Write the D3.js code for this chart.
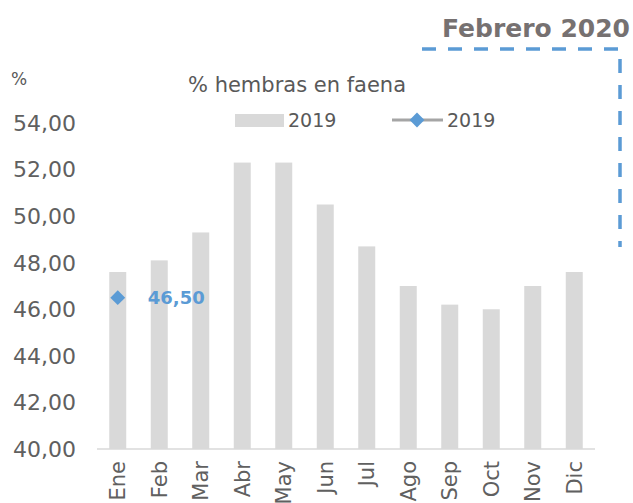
<!doctype html>
<meta charset="utf-8">
<script src="https://d3js.org/d3.v7.min.js"></script>
<style>
body { margin: 0; background: #fff; }
text { font-family: "DejaVu Sans", sans-serif; fill: #595959; }
</style>
<body>
<script>
// data
var months = ["Ene","Feb","Mar","Abr","May","Jun","Jul","Ago","Sep","Oct","Nov","Dic"];
var values2019 = [47.6, 48.1, 49.3, 52.3, 52.3, 50.5, 48.7, 47.0, 46.2, 46.0, 47.0, 47.6];
var months2020 = ["Ene"];
var values2020 = [46.5];
var yTicks = [40, 42, 44, 46, 48, 50, 52, 54];

var W = 633, H = 503;
var svg = d3.select("body").append("svg")
    .attr("width", W)
    .attr("height", H);

// scales
var x = d3.scaleBand().domain(months).range([97, 595]);
var y = d3.scaleLinear().domain([40, 54]).range([449, 123]);
var fmt = function(d) { return d3.format(".2f")(d).replace(".", ","); };

// bars
var bw = 17;
svg.selectAll(".bar")
    .data(values2019)
  .enter().append("rect")
    .attr("class", "bar")
    .attr("x", function(d, i) { return x(months[i]) + x.bandwidth() / 2 - bw / 2; })
    .attr("width", bw)
    .attr("y", function(d) { return y(d); })
    .attr("height", function(d) { return y(40) - y(d); })
    .attr("fill", "#d9d9d9");

// x axis line
svg.append("line")
    .attr("x1", 97).attr("x2", 595)
    .attr("y1", y(40)).attr("y2", y(40))
    .attr("stroke", "#d9d9d9").attr("stroke-width", 1.5);

// y tick labels
svg.selectAll(".ytick")
    .data(yTicks)
  .enter().append("text")
    .attr("x", 76)
    .attr("y", function(d) { return y(d); })
    .attr("dy", "0.36em")
    .attr("text-anchor", "end")
    .style("font-size", "22px")
    .style("fill", "#606060")
    .text(fmt);

// month labels
svg.selectAll(".xlab")
    .data(months)
  .enter().append("text")
    .attr("transform", function(d) {
      return "translate(" + (x(d) + x.bandwidth() / 2) + "," + (y(40) + 12) + ") rotate(-90)";
    })
    .attr("dy", "0.36em")
    .attr("text-anchor", "end")
    .style("font-size", "21px")
    .style("fill", "#606060")
    .text(function(d) { return d; });

// 2020 point
var diamond = d3.symbol().type(d3.symbolSquare).size(110);
svg.selectAll(".pt")
    .data(values2020)
  .enter().append("path")
    .attr("d", diamond)
    .attr("transform", function(d, i) {
      return "translate(" + (x(months2020[i]) + x.bandwidth() / 2) + "," + y(d) + ") rotate(45)";
    })
    .attr("fill", "#5b9bd5");

svg.selectAll(".ptlab")
    .data(values2020)
  .enter().append("text")
    .attr("x", function(d, i) { return x(months2020[i]) + x.bandwidth() / 2 + 30; })
    .attr("y", function(d) { return y(d); })
    .attr("dy", "0.36em")
    .style("font-size", "18px")
    .style("font-weight", "bold")
    .style("fill", "#5b9bd5")
    .text(fmt);

// axis unit and title
svg.append("text").attr("x", 11).attr("y", 85)
    .style("font-size", "17px").text("%");
svg.append("text").attr("x", 188).attr("y", 92)
    .style("font-size", "21px").text("% hembras en faena");

// legend
svg.append("rect").attr("x", 235).attr("y", 114).attr("width", 49).attr("height", 13)
    .attr("fill", "#d9d9d9");
svg.append("text").attr("x", 288).attr("y", 127)
    .style("font-size", "19px").text("2019");
svg.append("line").attr("x1", 392).attr("x2", 443).attr("y1", 120).attr("y2", 120)
    .attr("stroke", "#a5a5a5").attr("stroke-width", 3);
svg.append("path").attr("d", diamond)
    .attr("transform", "translate(417,120) rotate(45)")
    .attr("fill", "#5b9bd5");
svg.append("text").attr("x", 447).attr("y", 127)
    .style("font-size", "19px").text("2019");

// header and dashed frame
svg.append("text").attr("x", 630).attr("y", 37)
    .attr("text-anchor", "end")
    .style("font-size", "25px").style("font-weight", "bold")
    .style("fill", "#767171")
    .text("Febrero 2020");
svg.append("path")
    .attr("d", "M422,49 H620 V247")
    .attr("fill", "none")
    .attr("stroke", "#5b9bd5")
    .attr("stroke-width", 3.5)
    .attr("stroke-dasharray", "14,12");
</script>
</body>
